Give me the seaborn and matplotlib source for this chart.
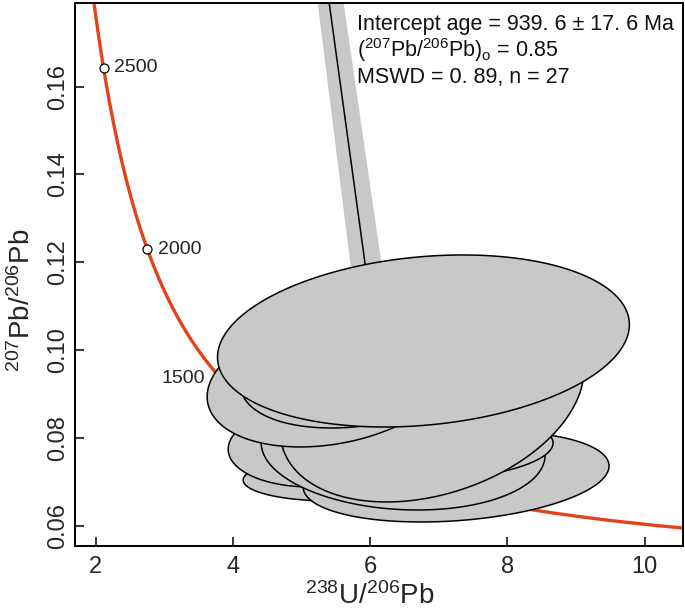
import numpy as np
import pandas as pd
import matplotlib
matplotlib.use("Agg")
import matplotlib.pyplot as plt
import seaborn as sns

# decay constants (1/yr) and present 238U/235U
lam238 = 1.55125e-10
lam235 = 9.8485e-10
u_ratio = 137.88

# ages along the concordia (Ma) and the labelled ones
concordia_ages = np.linspace(450, 2900, 400)
label_ages = [1500, 2000, 2500]
label_side = ["left", "right", "right"]

# analyses: centre, half-widths of the error ellipse and correlation (drawn bottom -> top)
ell_x = [5.488, 5.270, 7.252, 6.480, 6.727, 6.902, 5.430, 5.999, 6.776]
ell_y = [0.07062, 0.07836, 0.07118, 0.07745, 0.07802, 0.08861, 0.09317, 0.09658, 0.10205]
ell_sx = [1.341, 1.341, 2.230, 2.070, 1.939, 2.216, 1.808, 1.895, 3.003]
ell_sy = [0.00501, 0.00957, 0.01036, 0.01390, 0.00797, 0.02323, 0.01526, 0.01435, 0.01959]
ell_rho = [0.05, 0.10, 0.23, -0.10, 0.10, 0.30, 0.25, 0.30, 0.19]

# discordia and its error envelope
disc_y = [0.18, 0.10]
disc_x = [5.393, 6.098]
env_left = [5.219, 5.862]
env_right = [5.597, 6.341]

info_lines = [
    "Intercept age = 939. 6 \u00b1 17. 6 Ma",
    r"($^{207}$Pb/$^{206}$Pb)$_{\rm o}$ = 0.85",
    "MSWD = 0. 89, n = 27",
]


def tw_point(age_ma):
    t = np.asarray(age_ma) * 1e6
    e8 = np.exp(lam238 * t) - 1
    e5 = np.exp(lam235 * t) - 1
    return 1 / e8, e5 / e8 / u_ratio


sns.set_theme(style="ticks")
plt.rcParams["font.family"] = ["Liberation Sans", "DejaVu Sans"]
plt.rcParams["mathtext.fontset"] = "custom"
plt.rcParams["mathtext.rm"] = "Liberation Sans"
plt.rcParams["mathtext.it"] = "Liberation Sans:italic"

fig = plt.figure(figsize=(6.85, 6.13), dpi=100)
ax = fig.add_axes([0.109, 0.1093, 0.888, 0.8863])

cx, cy = tw_point(concordia_ages)
df_conc = pd.DataFrame({"x": cx, "y": cy})
sns.lineplot(data=df_conc, x="x", y="y", sort=False, color="#e4421b", lw=2.4, ax=ax, zorder=2)

lx, ly = tw_point(label_ages)
df_lab = pd.DataFrame({"x": lx, "y": ly, "age": label_ages})
sns.scatterplot(data=df_lab, x="x", y="y", s=42, color="white", edgecolor="black",
                linewidth=0.9, ax=ax, zorder=3)
for (x, y, age), side in zip(df_lab[["x", "y", "age"]].values, label_side):
    off = (-11, 0) if side == "left" else (7.5, 0)
    ax.annotate(f"{int(age)}", (x, y), xytext=off, textcoords="offset points",
                ha="right" if side == "left" else "left", va="center",
                fontsize=14, color="#222222", zorder=3)

# discordia envelope and line
ax.fill_betweenx(disc_y, env_left, env_right, color="#c8c8c8", lw=0, zorder=1)
ax.plot(disc_x, disc_y, color="black", lw=1.1, zorder=1.5)

# error ellipses
theta = np.linspace(0, 2 * np.pi, 200)
for x0, y0, a, b, r in zip(ell_x, ell_y, ell_sx, ell_sy, ell_rho):
    ex = x0 + a * np.cos(theta)
    ey = y0 + b * (r * np.cos(theta) + np.sqrt(1 - r ** 2) * np.sin(theta))
    ax.fill(ex, ey, facecolor="#c8c8c8", edgecolor="black", lw=1.1, zorder=4)

ax.set_xlim(1.69, 10.56)
ax.set_ylim(0.05535, 0.1791)
ax.set_xticks([2, 4, 6, 8, 10])
ax.set_yticks([0.06, 0.08, 0.10, 0.12, 0.14, 0.16])
ax.set_yticklabels(["0.06", "0.08", "0.10", "0.12", "0.14", "0.16"])
ax.tick_params(direction="in", length=6.5, width=1.1, labelsize=17, color="black")
ax.tick_params(axis="x", pad=7.5)
ax.tick_params(axis="y", pad=4)
plt.setp(ax.get_yticklabels(), rotation=90, va="center")
for sp in ax.spines.values():
    sp.set_linewidth(1.4)
    sp.set_color("black")

ax.set_xlabel(r"$^{238}$U/$^{206}$Pb", fontsize=20)
ax.set_ylabel(r"$^{207}$Pb/$^{206}$Pb", fontsize=20)
ax.xaxis.set_label_coords(0.485, -0.067)
ax.yaxis.set_label_coords(-0.064, 0.453)

for yy, line in zip([0.950, 0.900, 0.852], info_lines):
    ax.text(0.464, yy, line, transform=ax.transAxes, fontsize=15.5, va="baseline",
            ha="left", color="#111111", zorder=5)

fig.savefig("out.png", dpi=100)
